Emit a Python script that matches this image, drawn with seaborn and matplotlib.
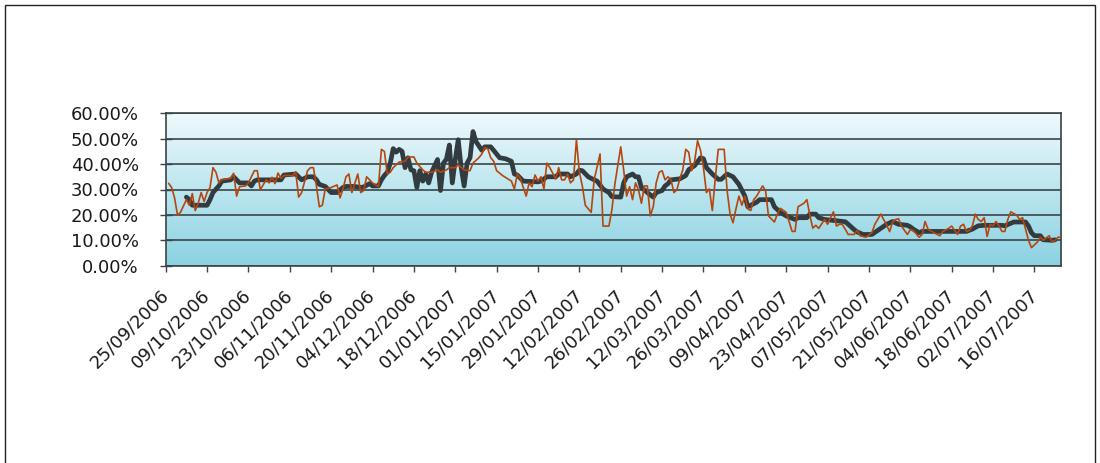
import numpy as np
import pandas as pd
import matplotlib
matplotlib.use("Agg")
import matplotlib.pyplot as plt
from matplotlib.ticker import PercentFormatter, MultipleLocator
from matplotlib.colors import LinearSegmentedColormap
from matplotlib.patches import Rectangle
import matplotlib.dates as mdates
import seaborn as sns

# ---------------- data ----------------
AXIS_START = "2006-09-25"
AXIS_END = "2007-07-25"

# thin orange series: day offset after 25/09/2006 and value in %
orange_day = [1, 2, 3, 4, 5, 7, 8, 9, 10, 11, 12, 13, 14, 15, 16, 17, 18, 19,
              22, 23, 24, 25, 27, 28, 30, 31, 32, 34, 35, 36, 37, 38, 39, 40,
              43, 44, 45, 46, 48, 49, 50, 51, 52, 53, 54, 56, 58, 59, 60, 61, 62, 63, 65, 66, 67, 68,
              70, 72, 73, 74, 75, 76, 77, 79, 81, 82, 84, 85, 87, 88, 90, 92, 93, 95, 96, 98, 99,
              101, 103, 104, 106, 107, 108, 109, 110, 111, 112, 114, 117, 118, 119, 120, 122, 123,
              124, 125, 126, 127, 128, 129, 130,
              132, 133, 134, 135, 136, 137, 138, 139, 140, 141, 142, 144, 145, 147, 148, 150, 151, 152,
              154, 155, 156, 157, 158, 159, 160, 161, 162, 163, 164, 165, 166, 167, 168, 169, 170,
              171, 172, 173, 174, 175, 176, 177, 178, 179, 180, 181, 182, 183, 184, 185, 186, 187,
              189, 190, 191, 192, 193, 194, 195, 196, 197, 198, 199, 200, 202, 203, 204,
              206, 207, 208, 210, 211, 212, 213, 214, 216, 217, 218, 219, 220, 221, 223, 224, 225,
              226, 227, 228, 229,
              231, 233, 234, 235, 237, 239, 240, 242, 244, 245, 246, 247, 248, 249, 251, 252, 253,
              255, 256, 257, 258,
              260, 262, 263, 265, 266, 268, 269, 270, 271, 272, 273, 274, 275, 276, 277, 278, 279,
              280, 281, 282, 283, 284, 285, 286, 288, 289, 290, 291, 292, 293, 295, 296, 297, 299,
              300, 301, 302, 303]
orange_pct = [32.4, 30.8, 26.7, 19.9, 21.0, 26.0, 23.8, 28.4, 21.7, 24.6, 28.8, 25.3, 28.8, 30.8, 38.6, 36.8, 32.6, 33.8,
              34.4, 36.4, 27.4, 31.1, 31.4, 32.6, 37.4, 37.4, 29.9, 33.8, 32.6, 34.8, 32.3, 36.5, 34.4, 35.5,
              35.5, 37.0, 27.0, 28.8, 37.4, 38.6, 38.6, 31.4, 23.2, 23.8, 30.2, 30.8, 31.8, 26.7, 30.2, 35.0, 36.1, 28.8, 36.1, 28.8, 29.6, 35.0,
              32.6, 31.1, 45.8, 45.0, 36.1, 36.8, 38.6, 40.8, 41.1, 42.8, 42.8, 40.4, 37.7, 36.8, 36.8, 37.7, 36.8, 37.7, 38.6, 38.6, 39.7,
              37.7, 37.4, 40.4, 42.5, 44.0, 46.5, 46.1, 42.5, 41.1, 37.4, 35.5, 33.3, 30.2, 36.1, 34.4, 27.4, 32.6,
              31.1, 35.7, 33.3, 35.0, 30.2, 40.4, 38.6,
              34.1, 38.6, 33.8, 33.8, 36.1, 32.6, 33.8, 49.6, 36.8, 31.4, 23.8, 21.0, 33.8, 44.0, 15.6, 15.6, 22.0, 32.0,
              46.8, 37.7, 27.4, 31.1, 26.0, 32.6, 29.9, 24.6, 31.4, 31.4, 19.6, 23.2, 32.6, 36.8, 37.4, 33.8, 35.0,
              33.8, 28.8, 29.9, 34.2, 37.7, 45.8, 44.7, 37.4, 41.1, 49.2, 45.4, 38.6, 28.8, 30.2, 21.7, 34.4, 45.8,
              45.8, 29.6, 20.3, 16.9, 22.4, 27.4, 23.8, 27.4, 22.4, 21.7, 26.0, 27.4, 31.4, 29.6, 19.6,
              17.2, 20.3, 22.6, 21.0, 17.2, 13.5, 13.5, 23.2, 24.6, 26.0, 19.9, 14.8, 15.9, 14.7, 18.2, 16.3, 18.9,
              21.2, 15.6, 16.3, 16.3,
              12.3, 12.3, 13.9, 11.8, 11.2, 13.0, 16.3, 20.3, 16.0, 13.4, 17.2, 18.2, 18.5, 15.6, 12.3, 14.2, 13.9,
              11.2, 12.3, 17.4, 14.4,
              13.0, 11.8, 13.5, 14.7, 15.6, 12.3, 15.6, 16.3, 13.5, 13.9, 15.6, 20.3, 18.2, 17.4, 18.9, 11.5, 16.3,
              15.7, 17.4, 15.7, 13.5, 13.5, 18.2, 21.2, 19.9, 18.2, 18.9, 14.4, 10.0, 7.1, 9.3, 11.2, 10.0, 11.8,
              9.3, 10.0, 11.2, 11.2]

# thick dark series: day offset after 25/09/2006 and value in %
gray_day = [7, 8, 9, 10, 14, 15, 16, 18, 19, 22,
            23, 25, 28, 29, 30, 31, 39, 40, 44, 46,
            48, 50, 51, 52, 54, 56, 58, 60, 61, 64,
            66, 67, 69, 70, 72, 73, 74, 75, 76, 77,
            78, 79, 80, 81, 82, 83, 84, 85, 86, 87,
            88, 89, 90, 92, 93, 94, 95, 96, 97, 98,
            99, 100, 101, 102, 103, 104, 105, 107, 108, 110,
            111, 113, 115, 117, 118, 119, 121, 126, 127, 129,
            132, 133, 136, 137, 139, 140, 141, 143, 145, 146,
            148, 150, 151, 154, 155, 156, 158, 159, 160, 161,
            163, 165, 166, 168, 169, 170, 171, 174, 176, 177,
            179, 181, 182, 183, 185, 187, 188, 190, 192, 194,
            196, 197, 198, 200, 201, 205, 206, 208, 210, 213,
            214, 217, 218, 220, 221, 223, 230, 231, 233, 234,
            236, 239, 241, 244, 246, 248, 251, 252, 253, 255,
            256, 257, 271, 273, 275, 277, 283, 284, 287, 291,
            292, 293, 294, 296, 297, 300, 301]
gray_pct = [27.0, 26.0, 23.8, 23.8, 23.8, 26.0, 28.8, 31.4, 33.3, 33.8,
            35.0, 32.6, 32.6, 31.4, 33.3, 33.8, 33.8, 35.7, 36.1, 33.8,
            35.0, 35.0, 33.8, 32.0, 31.2, 28.8, 28.8, 30.8, 31.2, 31.2,
            30.8, 31.0, 32.3, 31.4, 31.4, 33.8, 35.5, 36.8, 40.4, 46.1,
            44.7, 45.8, 45.0, 38.6, 42.5, 37.7, 37.4, 30.8, 37.4, 33.3,
            36.1, 32.6, 36.8, 41.8, 29.6, 40.4, 41.9, 47.5, 32.6, 41.8,
            49.6, 38.6, 31.4, 40.4, 42.5, 52.8, 48.9, 45.4, 46.8, 46.8,
            45.4, 42.5, 42.1, 41.1, 36.1, 35.7, 33.3, 33.0, 33.3, 35.0,
            35.0, 36.1, 36.1, 35.0, 36.1, 37.6, 37.4, 35.0, 33.8, 33.3,
            30.2, 28.8, 27.2, 27.0, 32.6, 35.0, 36.1, 35.0, 35.0, 30.8,
            28.8, 27.0, 28.8, 29.6, 31.4, 32.3, 33.8, 34.2, 35.5, 37.8,
            39.4, 42.5, 42.1, 38.6, 36.1, 34.0, 34.0, 36.1, 35.0, 32.0,
            27.4, 23.2, 23.8, 25.0, 26.0, 26.0, 23.2, 21.0, 19.6, 18.2,
            18.9, 18.9, 20.3, 20.3, 18.9, 18.2, 17.3, 16.3, 14.2, 13.3,
            12.3, 12.3, 13.9, 16.3, 17.4, 16.3, 15.9, 15.3, 14.4, 13.0,
            13.5, 13.5, 13.5, 14.4, 15.7, 15.9, 15.9, 15.7, 17.2, 17.2,
            15.6, 13.0, 11.8, 11.8, 10.2, 10.0, 10.2]

y_ticks_pct = [0, 10, 20, 30, 40, 50, 60]

# ---------------- build frames ----------------
start = pd.Timestamp(AXIS_START)
end = pd.Timestamp(AXIS_END)
orange = pd.DataFrame({"date": start + pd.to_timedelta(orange_day, unit="D"), "pct": orange_pct})
gray = pd.DataFrame({"date": start + pd.to_timedelta(gray_day, unit="D"), "pct": gray_pct})

# ---------------- style ----------------
sns.set_style("white")
plt.rcParams["font.family"] = ["DejaVu Sans"]

W, H = 1100, 463
fig = plt.figure(figsize=(W / 100, H / 100), dpi=100)
L, R, T, B = 165.7, 1061.0, 113.3, 265.7
ax = fig.add_axes([L / W, 1 - B / H, (R - L) / W, (B - T) / H])

# gradient background
cmap = LinearSegmentedColormap.from_list("bg", ["#8bd1e2", "#bce6ef", "#eff9fc"])
grad = np.linspace(0, 1, 256).reshape(-1, 1)
ax.imshow(grad, aspect="auto", cmap=cmap, extent=[0, 1, 0, 1],
          transform=ax.transAxes, origin="lower", zorder=0)

sns.lineplot(data=gray, x="date", y="pct", ax=ax, color="#323c40",
             linewidth=3.4, estimator=None, zorder=3)
sns.lineplot(data=orange, x="date", y="pct", ax=ax, color="#b4460e",
             linewidth=1.2, estimator=None, zorder=4)

ax.set_xlim(start, end)
ax.set_ylim(y_ticks_pct[0], y_ticks_pct[-1])
ax.set_yticks(y_ticks_pct)
ax.yaxis.set_major_formatter(PercentFormatter(100, decimals=2))
ax.set_xticks(pd.date_range(start, end, freq="14D"))
ax.xaxis.set_major_formatter(mdates.DateFormatter("%d/%m/%Y"))
ax.set_xlabel("")
ax.set_ylabel("")

ax.yaxis.grid(True, color="#3a4448", linewidth=1.2)
ax.xaxis.grid(False)
ax.set_axisbelow(True)
for s in ax.spines.values():
    s.set_color("#3a4448")
    s.set_linewidth(1.2)
    s.set_visible(True)

ax.tick_params(axis="y", direction="inout", length=8.6, width=1.0, color="#3a4448",
               pad=15, labelsize=13, labelcolor="#1a1a1a", left=True)
ax.tick_params(axis="x", direction="out", length=4.5, width=1.0, color="#3a4448",
               pad=15, labelsize=13, labelcolor="#1a1a1a", bottom=True)
for lab in ax.get_xticklabels():
    lab.set_rotation(45)
    lab.set_ha("right")
    lab.set_va("center")
    lab.set_rotation_mode("anchor")

# chart area border
fig.patches.append(Rectangle((5 / W, -0.02), 1090 / W, 1 - 5 / H + 0.02,
                             transform=fig.transFigure, fill=False,
                             edgecolor="#222222", linewidth=1.0))

fig.savefig("out.png", dpi=100)
